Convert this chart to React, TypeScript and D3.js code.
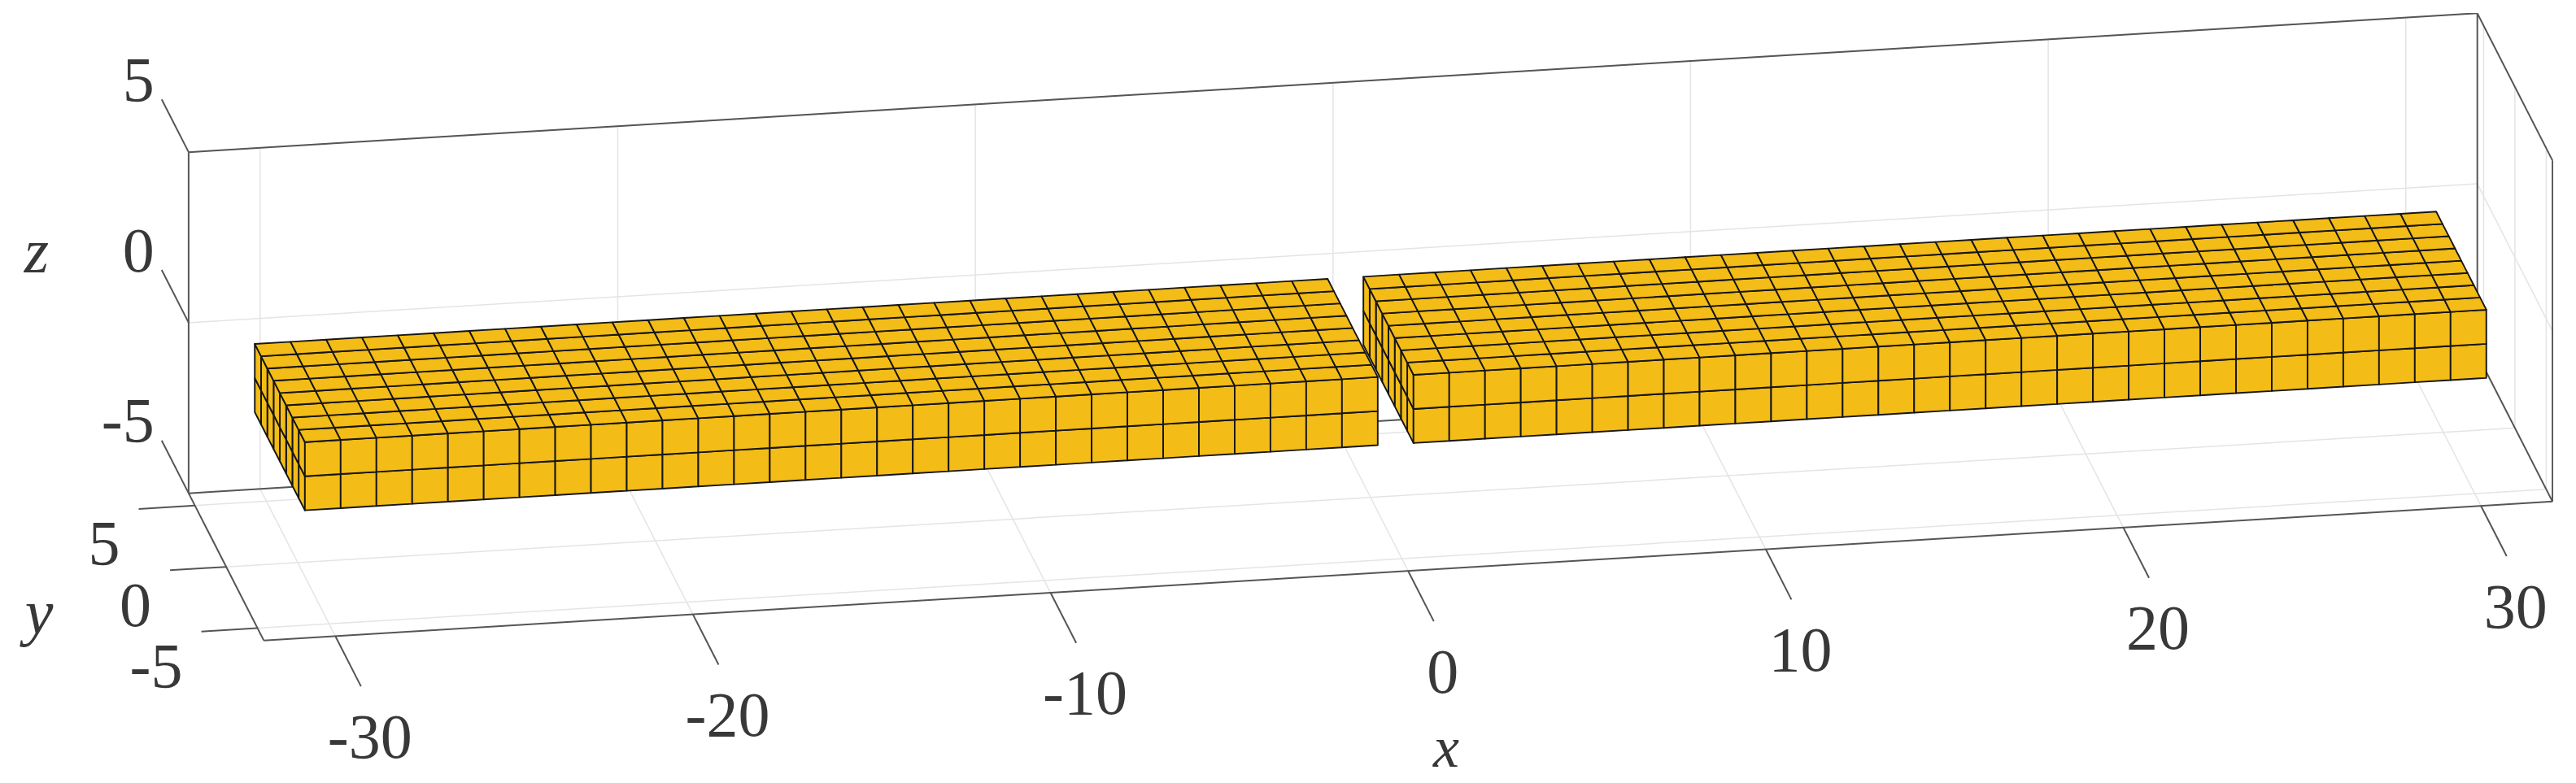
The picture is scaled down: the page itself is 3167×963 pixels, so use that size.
import React from "react";
import * as d3 from "d3";

// Axis limits and tick values
const xLimits = [-32, 32];
const yLimits = [-6, 6];
const zLimits = [-5, 5];
const xTicks = [-30, -20, -10, 0, 10, 20, 30];
const yTicks = [-5, 0, 5];
const zTicks = [-5, 0, 5];

// Cube blocks: first cell in x, number of cells in x
const blockStarts = [-30.5, 0.5];
const blockCounts = [30, 30];
// Block extent in y and z, one unit per cell
const blockYEdges = [-4, -3, -2, -1, 0, 1, 2, 3, 4];
const blockZEdges = [-2, -1, 0];

const xTickLabels = ["-30", "-20", "-10", "0", "10", "20", "30"];
const yTickLabels = ["-5", "0", "5"];
const zTickLabels = ["-5", "0", "5"];

// Orthographic projection: every data axis contributes linearly to the screen x and y
const xToH = d3.scaleLinear().domain([-32, 32]).range([-1406.9, 1406.9]);
const xToV = d3.scaleLinear().domain([-32, 32]).range([85.4, -85.4]);
const yToH = d3.scaleLinear().domain([-6, 6]).range([46.2, -46.2]);
const yToV = d3.scaleLinear().domain([-6, 6]).range([90.5, -90.5]);
const zToV = d3.scaleLinear().domain([-5, 5]).range([209.75, -209.75]);
const originH = 1685;
const originV = 402;

type P = [number, number];
const proj = (x: number, y: number, z: number): P => [
  originH + xToH(x) + yToH(y),
  originV + xToV(x) + yToV(y) + zToV(z),
];
const poly = d3.line<P>().x((d) => d[0]).y((d) => d[1]);
const seg = (a: P, b: P) => poly([a, b]) as string;
const quad = (pts: P[]) => (poly(pts) as string) + "Z";

const AXIS = "#555555";
const GRID = "#e4e4e4";
const EDGE = "#141414";
const FACE = "#F3BC16";
const TEXT = "#383838";
const FONT = "'Liberation Serif', serif";

const [x0, x1] = xLimits;
const [y0, y1] = yLimits;
const [z0, z1] = zLimits;

function gridPaths(): string[] {
  const out: string[] = [];
  xTicks.forEach((x) => {
    out.push(seg(proj(x, y1, z0), proj(x, y1, z1)));
    out.push(seg(proj(x, y0, z0), proj(x, y1, z0)));
  });
  yTicks.forEach((y) => {
    out.push(seg(proj(x1, y, z0), proj(x1, y, z1)));
    out.push(seg(proj(x0, y, z0), proj(x1, y, z0)));
  });
  zTicks.forEach((z) => {
    out.push(seg(proj(x0, y1, z), proj(x1, y1, z)));
    out.push(seg(proj(x1, y0, z), proj(x1, y1, z)));
  });
  return out;
}

function axisPaths(): string[] {
  return [
    seg(proj(x0, y1, z1), proj(x1, y1, z1)),
    seg(proj(x0, y1, z0), proj(x0, y1, z1)),
    seg(proj(x1, y1, z0), proj(x1, y1, z1)),
    seg(proj(x1, y0, z0), proj(x1, y0, z1)),
    seg(proj(x1, y1, z1), proj(x1, y0, z1)),
    seg(proj(x0, y1, z0), proj(x1, y1, z0)),
    seg(proj(x0, y1, z0), proj(x0, y0, z0)),
    seg(proj(x0, y0, z0), proj(x1, y0, z0)),
    seg(proj(x1, y1, z0), proj(x1, y0, z0)),
  ];
}

const xTickLen = 4.1;
const yTickLen = 1.57;
const zTickLen = 4.3;

function tickPaths(): string[] {
  const out: string[] = [];
  xTicks.forEach((x) => out.push(seg(proj(x, y0, z0), proj(x, y0 - xTickLen, z0))));
  yTicks.forEach((y) => out.push(seg(proj(x0, y, z0), proj(x0 - yTickLen, y, z0))));
  zTicks.forEach((z) => out.push(seg(proj(x0, y1, z), proj(x0, y1 + zTickLen, z))));
  return out;
}

function cubeFaces(): string[] {
  const out: string[] = [];
  const zTop = blockZEdges[blockZEdges.length - 1];
  const yFront = blockYEdges[0];
  blockStarts.forEach((start, b) => {
    const cols = d3.range(blockCounts[b]).map((i) => start + i);
    // left end
    blockYEdges.slice(0, -1).forEach((y, j) => {
      const yn = blockYEdges[j + 1];
      blockZEdges.slice(0, -1).forEach((z, k) => {
        const zn = blockZEdges[k + 1];
        out.push(quad([proj(start, y, z), proj(start, yn, z), proj(start, yn, zn), proj(start, y, zn)]));
      });
    });
    cols.forEach((x) => {
      // front side
      blockZEdges.slice(0, -1).forEach((z, k) => {
        const zn = blockZEdges[k + 1];
        out.push(quad([proj(x, yFront, z), proj(x + 1, yFront, z), proj(x + 1, yFront, zn), proj(x, yFront, zn)]));
      });
      // top
      blockYEdges.slice(0, -1).forEach((y, j) => {
        const yn = blockYEdges[j + 1];
        out.push(quad([proj(x, y, zTop), proj(x + 1, y, zTop), proj(x + 1, yn, zTop), proj(x, yn, zTop)]));
      });
    });
  });
  return out;
}

export default function App() {
  const textBase = { fontFamily: FONT, fontSize: 78, fill: TEXT, textAnchor: "middle" as const, dominantBaseline: "central" as const };
  return (
    <svg
      width={3167}
      height={963}
      viewBox="0 0 3167 963"
      style={{ position: "absolute", left: 0, top: 0, display: "block", background: "#fff" }}
    >
      <defs>
        <filter id="soft" x="0" y="0" width="100%" height="100%">
          <feGaussianBlur stdDeviation="0.7" />
        </filter>
      </defs>
      <g filter="url(#soft)">
        <g fill="none" stroke={GRID} strokeWidth={1.5}>
          {gridPaths().map((d, i) => <path key={i} d={d} />)}
        </g>
        <g fill="none" stroke={AXIS} strokeWidth={2}>
          {axisPaths().map((d, i) => <path key={i} d={d} />)}
          {tickPaths().map((d, i) => <path key={i} d={d} />)}
        </g>
        <g fill={FACE} stroke={EDGE} strokeWidth={1.9} strokeLinejoin="round">
          {cubeFaces().map((d, i) => <path key={i} d={d} />)}
        </g>
        {xTicks.map((x, i) => {
          const [px, py] = proj(x, y0 - xTickLen, z0);
          return <text key={x} {...textBase} x={px + 11} y={py + 61}>{xTickLabels[i]}</text>;
        })}
        {yTicks.map((y, i) => {
          const [px, py] = proj(x0 - yTickLen, y, z0);
          return <text key={y} {...textBase} textAnchor="end" x={px - 23} y={py + 42}>{yTickLabels[i]}</text>;
        })}
        {zTicks.map((z, i) => {
          const [px, py] = proj(x0, y1 + zTickLen, z);
          return <text key={z} {...textBase} textAnchor="end" x={px - 9} y={py - 25}>{zTickLabels[i]}</text>;
        })}
        <text {...textBase} fontSize={72} fontStyle="italic" x={1778} y={919}>x</text>
        <text {...textBase} fontStyle="italic" x={48} y={752}>y</text>
        <text {...textBase} fontStyle="italic" x={45} y={308}>z</text>
      </g>
    </svg>
  );
}
